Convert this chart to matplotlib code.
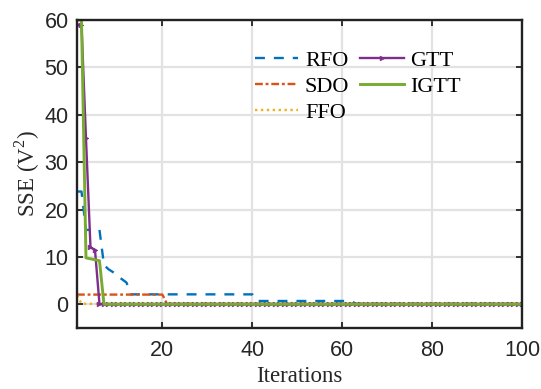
import numpy as np
import matplotlib
matplotlib.use("Agg")
import matplotlib.pyplot as plt

# ---- data ----
iterations = np.arange(1, 101)

rfo_vals = [23.8, 15.7, 8.3, 7.4, 6.8, 6.0, 5.3, 4.6, 2.1, 0.7, 0.1]
rfo_runs = [2, 4, 1, 1, 1, 1, 1, 1, 28, 22, 38]

sdo_vals = [2.05, 0.1]
sdo_runs = [20, 80]

ffo_vals = [1.9, 0.15, 0.1]
ffo_runs = [1, 1, 98]

gtt_vals = [59.0, 59.0, 35.0, 12.0, 11.5, 0.05]
gtt_runs = [1, 1, 1, 1, 1, 95]

igtt_vals = [60.0, 60.0, 9.8, 9.6, 9.4, 9.2, 0.02]
igtt_runs = [1, 1, 1, 1, 1, 1, 94]

labels = ["RFO", "SDO", "FFO", "GTT", "IGTT"]
colors = ["#0072BD", "#D95319", "#EDB120", "#7E2F8E", "#77AC30"]

xticks = [20, 40, 60, 80, 100]
yticks = [0, 10, 20, 30, 40, 50, 60]

rfo = np.repeat(rfo_vals, rfo_runs)
sdo = np.repeat(sdo_vals, sdo_runs)
ffo = np.repeat(ffo_vals, ffo_runs)
gtt = np.repeat(gtt_vals, gtt_runs)
igtt = np.repeat(igtt_vals, igtt_runs)

plt.rcParams['mathtext.fontset'] = 'custom'
plt.rcParams['mathtext.rm'] = 'Liberation Serif'

fig = plt.figure(figsize=(5.41, 3.89), dpi=100)
ax = fig.add_axes([77/541, 1-328/389, 445/541, 308/389])

lw = 1.7
l1, = ax.plot(iterations, rfo, color=colors[0], lw=lw, dashes=(4.2, 3.8), label=labels[0])
l2, = ax.plot(iterations, sdo, color=colors[1], lw=lw, dashes=(3.3, 1.2, 1.2, 1.2), label=labels[1])
l3, = ax.plot(iterations, ffo, color=colors[2], lw=lw, dashes=(1, 1.5), label=labels[2])
l4, = ax.plot(iterations, gtt, color=colors[3], lw=lw, marker='>', markersize=3.4,
              markeredgewidth=0.5, label=labels[3])
l5, = ax.plot(iterations, igtt, color=colors[4], lw=2.1, label=labels[4])

ax.set_xlim(1, 100)
ax.set_ylim(-5, 60)
ax.set_xticks(xticks)
ax.set_yticks(yticks)
ax.grid(True, color='#e2e2e2', lw=1.6)
ax.set_axisbelow(True)
for s in ax.spines.values():
    s.set_linewidth(1.7)
    s.set_color('#222222')
ax.tick_params(direction='in', length=4, width=1.3, top=True, right=True,
               labelsize=15.5, colors='#222222')
ax.tick_params(axis='x', pad=9)
ax.tick_params(axis='y', pad=6)
for t in ax.get_xticklabels() + ax.get_yticklabels():
    t.set_fontfamily('Liberation Sans')
    t.set_color('#262626')

ax.set_xlabel("Iterations", family='Liberation Serif', fontsize=16.5, color='#262626', labelpad=3)
ax.set_ylabel(r"SSE (V$^\mathregular{2}$)", family='Liberation Serif', fontsize=16.5,
              color='#262626', labelpad=2)

leg = ax.legend(handles=[l1, l2, l3, l4, l5], ncol=2, frameon=False,
                loc='upper left', bbox_to_anchor=((255-77)/445, 1-(50-20)/308),
                borderpad=0, borderaxespad=0, handlelength=1.95, handletextpad=0.3,
                columnspacing=0.5, labelspacing=0.25,
                prop={'family': 'Liberation Serif', 'size': 16})

fig.savefig("out.png", dpi=100)
